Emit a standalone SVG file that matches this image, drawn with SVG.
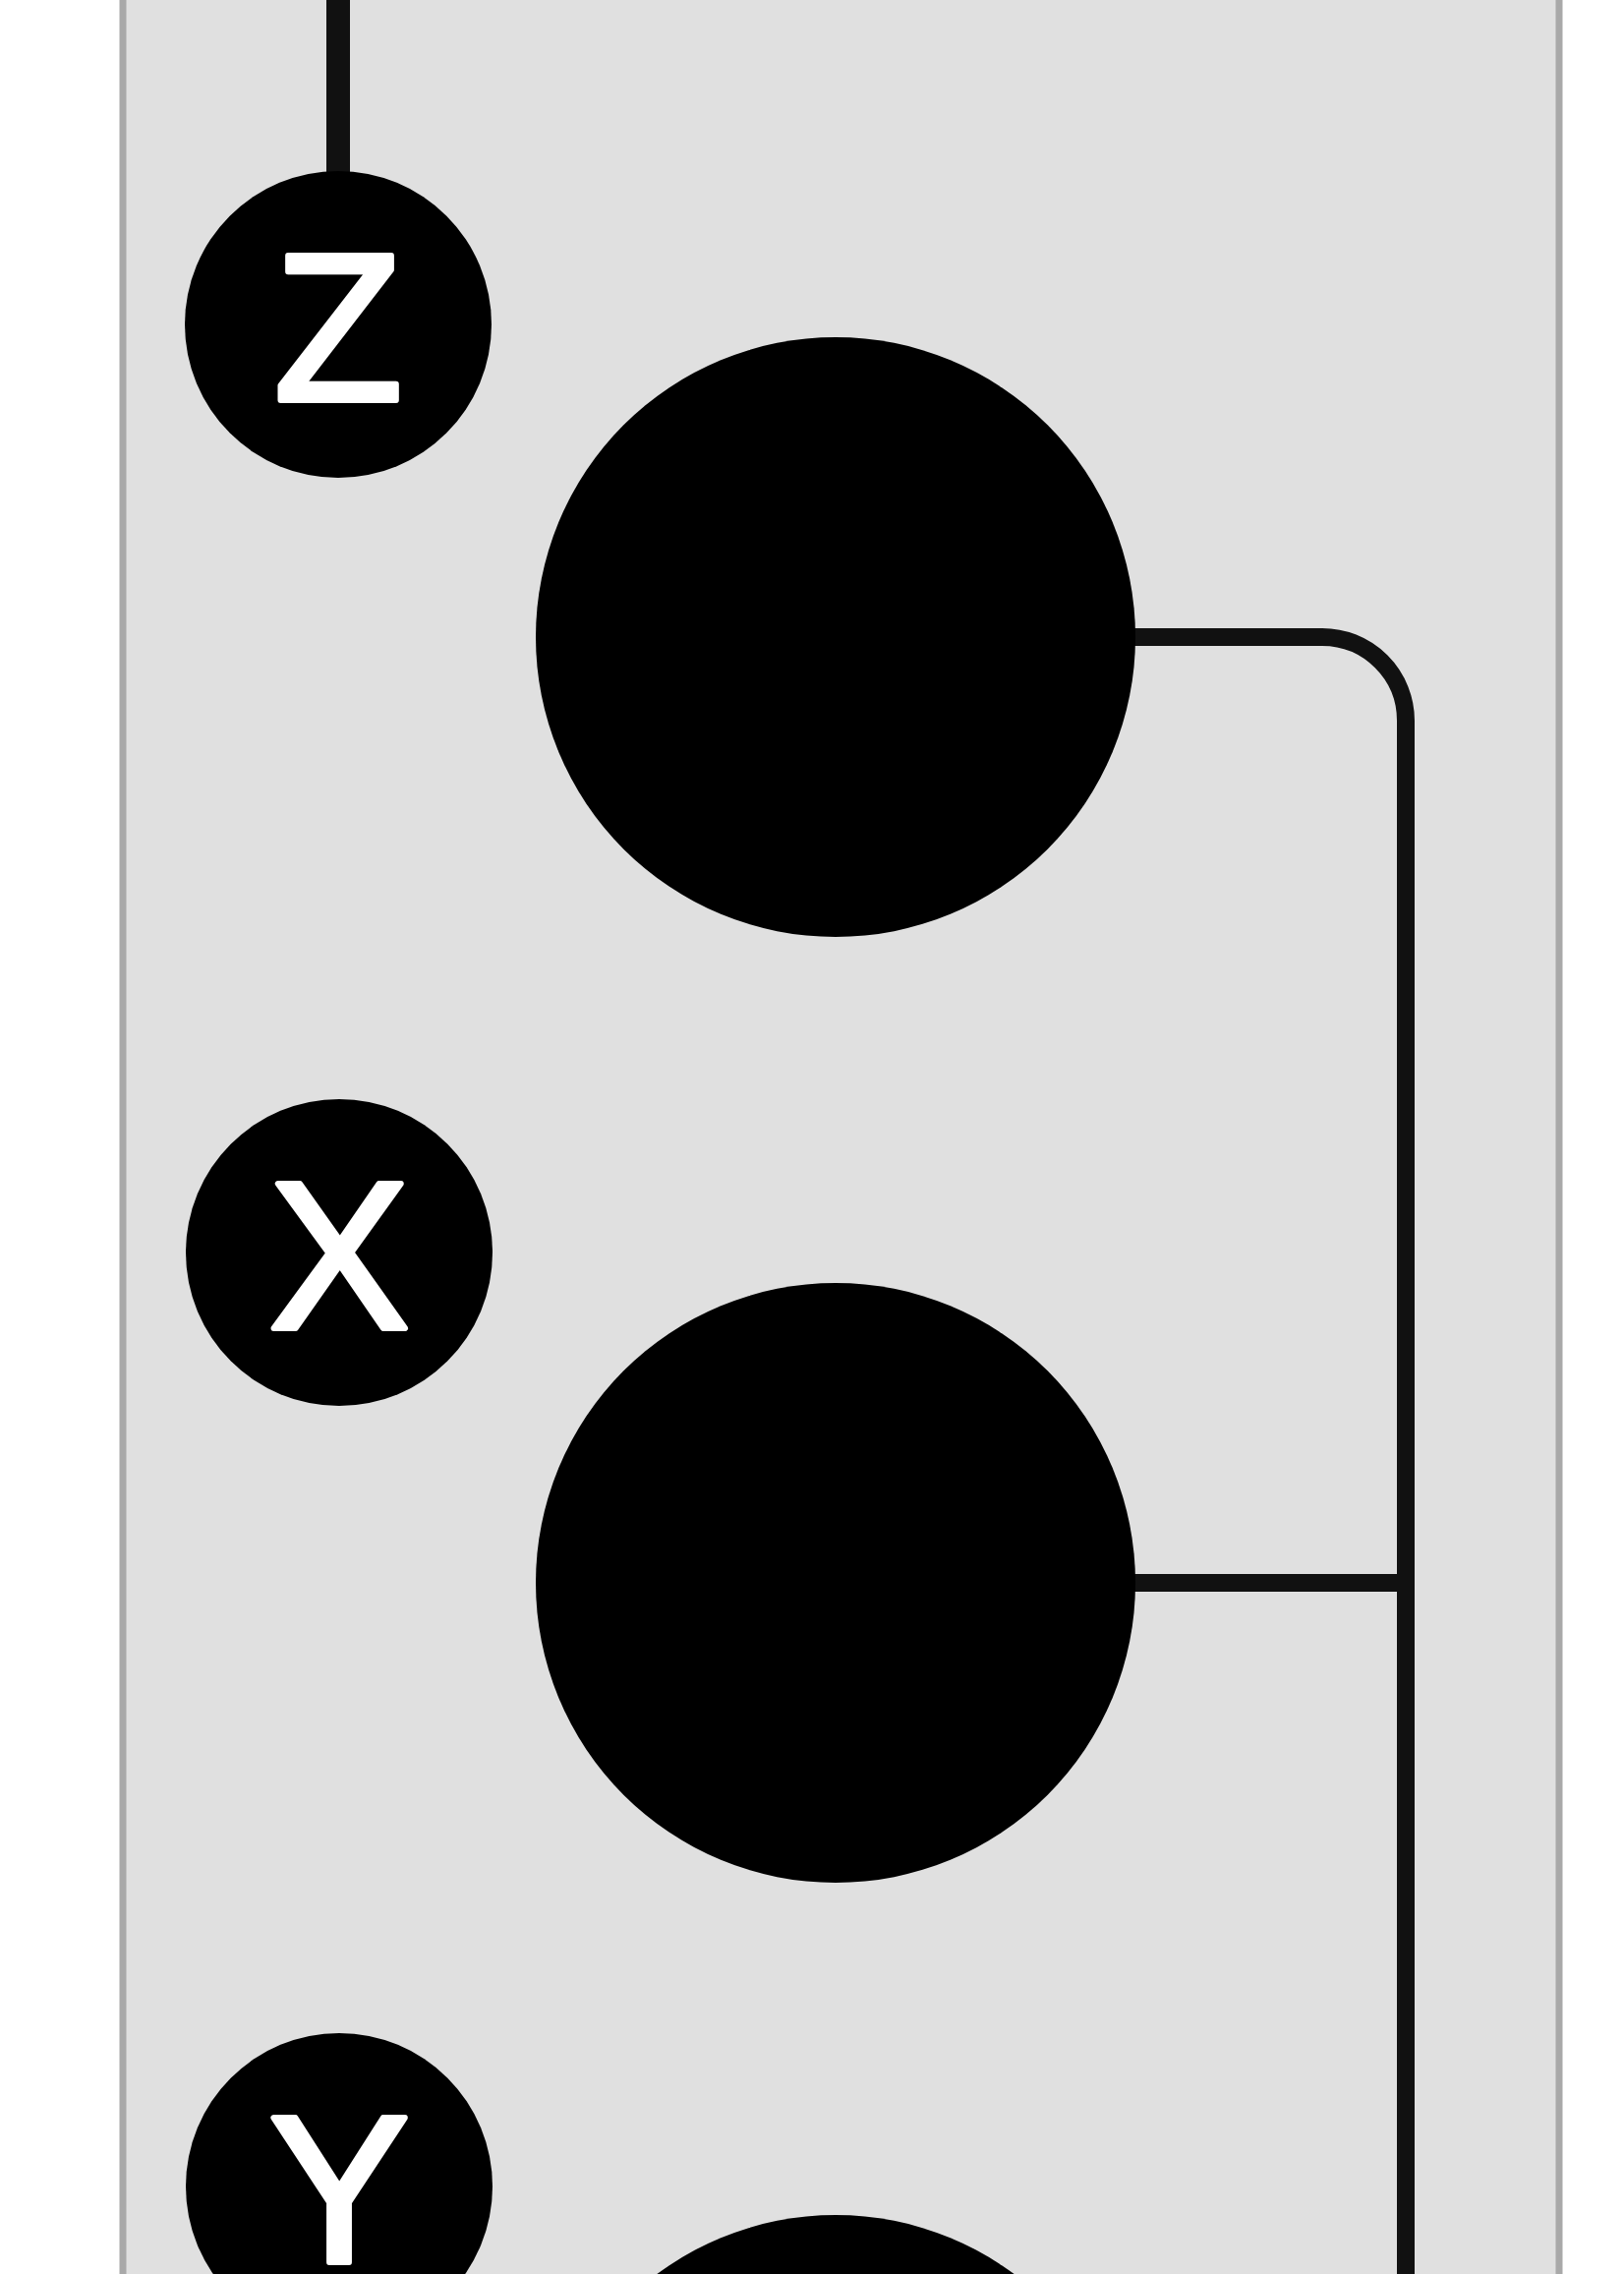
<svg xmlns="http://www.w3.org/2000/svg" width="1652" height="2313" viewBox="0 0 1652 2313">
  <style>
    .panel { fill: #e0e0e0; stroke: #a9a9a9; stroke-width: 7; }
    .small { fill: #000000; }
    .big { fill: #000000; }
    .label { fill: #ffffff; stroke: #ffffff; stroke-width: 6; stroke-linejoin: round; font-family: "Liberation Sans", Arial, sans-serif; font-size: 214px; text-anchor: middle; }
    .conn { fill: none; stroke: #111111; stroke-width: 18; }
    .top { fill: none; stroke: #111111; stroke-width: 24; }
  </style>
  <rect width="1652" height="2313" fill="#ffffff"/>
  <rect class="panel" x="125" y="-20" width="1461" height="2360"/>
  <g id="connectors">
    <path class="top" d="M 344 -10 V 180"/>
    <path class="conn" d="M 1150 648 H 1345 A 85 85 0 0 1 1430 733 V 2330"/>
    <path class="conn" d="M 1150 1610 H 1430"/>
  </g>
  <g id="node-z">
    <circle class="small" cx="344" cy="330" r="156"/>
    <text class="label" x="344" y="407">Z</text>
  </g>
  <g id="node-a">
    <circle class="big" cx="850" cy="648" r="305"/>
  </g>
  <g id="node-x">
    <circle class="small" cx="345" cy="1274" r="156"/>
    <text class="label" x="345" y="1351">X</text>
  </g>
  <g id="node-b">
    <circle class="big" cx="850" cy="1610" r="305"/>
  </g>
  <g id="node-y">
    <circle class="small" cx="345" cy="2224" r="156"/>
    <text class="label" x="345" y="2301">Y</text>
  </g>
  <g id="node-c">
    <circle class="big" cx="850" cy="2558" r="305"/>
  </g>
</svg>
